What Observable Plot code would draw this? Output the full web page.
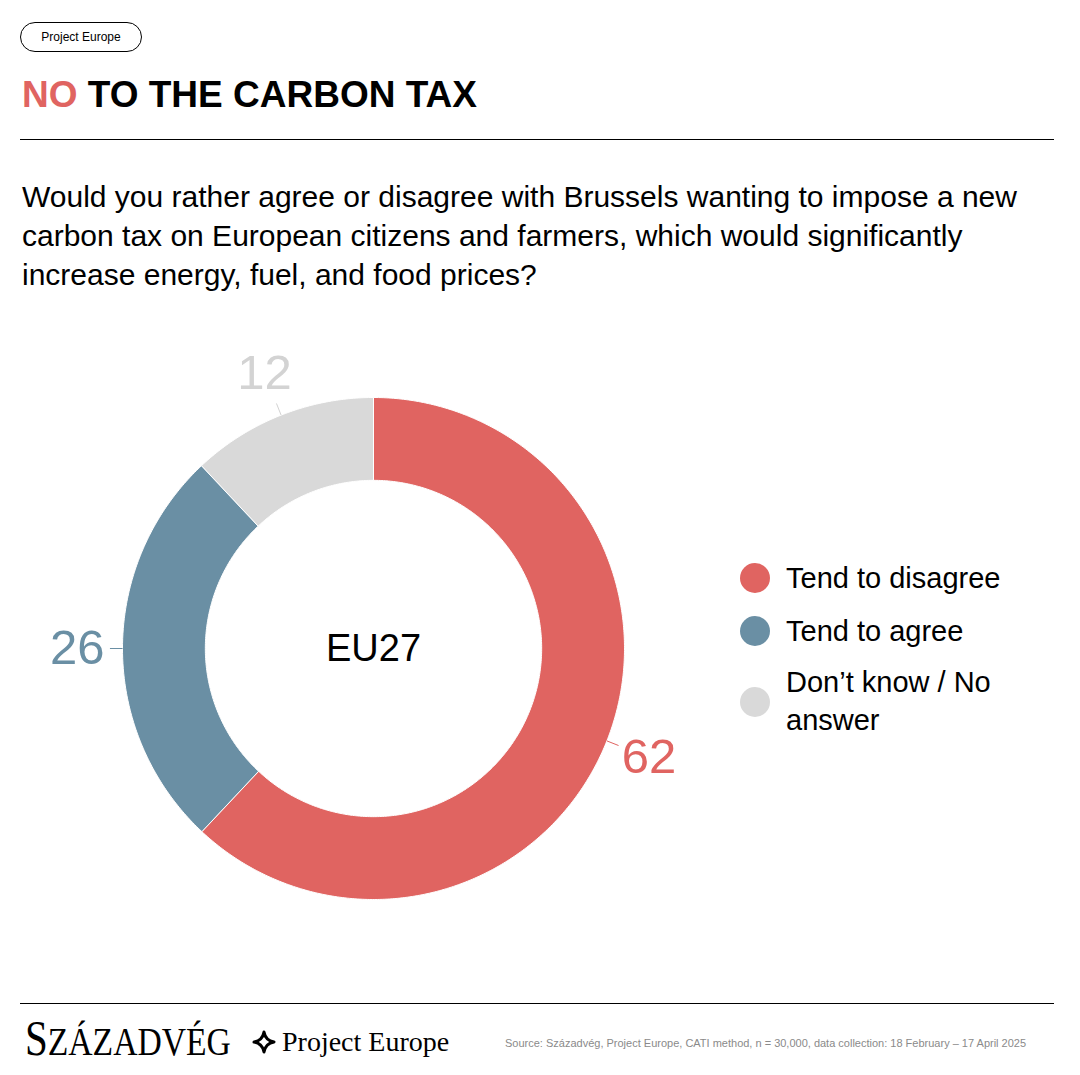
<!DOCTYPE html>
<html>
<head>
<meta charset="utf-8">
<script src="https://cdn.jsdelivr.net/npm/d3@7"></script>
<script src="https://cdn.jsdelivr.net/npm/@observablehq/plot@0.6"></script>
<style>
  html, body { margin: 0; padding: 0; background: #fff; }
  body { width: 1080px; height: 1075px; position: relative; overflow: hidden; font-family: "Liberation Sans", Arial, sans-serif; color: #000; }
  .abs { position: absolute; }
  #pill { left: 20px; top: 22px; width: 120px; height: 28px; border: 1px solid #000; border-radius: 15px; font-size: 12px; line-height: 28px; text-align: center; }
  #title { left: 22px; top: 76px; font-size: 37px; line-height: 37px; font-weight: bold; white-space: nowrap; }
  #title .no { color: #E06461; }
  .rule { left: 20px; width: 1034px; height: 1px; background: #000; }
  #question { left: 22px; top: 177px; font-size: 30px; line-height: 39px; white-space: nowrap; }
  #chart { left: 0; top: 0; }
  .leg { left: 740px; }
  .leg .dot { position: absolute; left: 0; width: 30px; height: 30px; border-radius: 50%; }
  .leg .lab { position: absolute; left: 46px; font-size: 29px; line-height: 38px; white-space: nowrap; }
  #logo1 { left: 25px; top: 1013px; font-family: "Liberation Serif", serif; line-height: 50px; transform-origin: 0 0; transform: scaleX(0.82); white-space: nowrap; }
  #logo1 .big { font-size: 50px; }
  #logo1 .small { font-size: 41px; }
  #logo2 { left: 252px; top: 1026px; font-family: "Liberation Serif", serif; font-size: 28px; line-height: 32px; white-space: nowrap; }
  #logo2 svg { vertical-align: -3px; margin-right: 6px; }
  #source { left: 505px; top: 1036px; font-size: 11px; line-height: 14px; color: #8a8a8a; white-space: nowrap; }
</style>
</head>
<body>
<div id="pill" class="abs">Project Europe</div>
<div id="title" class="abs"><span class="no">NO</span> TO THE CARBON TAX</div>
<div class="abs rule" style="top:139px"></div>
<div id="question" class="abs">Would you rather agree or disagree with Brussels wanting to impose a new<br>carbon tax on European citizens and farmers, which would significantly<br>increase energy, fuel, and food prices?</div>
<div id="chart" class="abs"></div>
<div id="legend"></div>
<div class="abs rule" style="top:1003px"></div>
<div id="logo1" class="abs"><span class="big">S</span><span class="small">ZÁZADVÉG</span></div>
<div id="logo2" class="abs"><svg width="24" height="24" viewBox="0 0 24 24"><path d="M12 2 Q13.5 10.5 22 12 Q13.5 13.5 12 22 Q10.5 13.5 2 12 Q10.5 10.5 12 2 Z" fill="none" stroke="#000" stroke-width="3" stroke-linejoin="round"/></svg>Project Europe</div>
<div id="source" class="abs">Source: Századvég, Project Europe, CATI method, n = 30,000, data collection: 18 February – 17 April 2025</div>
<script>
// ---- data ----
const categories = ["Tend to disagree", "Tend to agree", "Don’t know / No answer"];
const values = [62, 26, 12];
const colors = ["#E06461", "#6A8FA4", "#D9D9D9"];
const labelColors = ["#E06461", "#6A8FA4", "#D3D3D3"];
const centerLabel = "EU27";

// ---- geometry from data ----
const innerR = 0.67;
const pie = d3.pie().sort(null).value(d => d.value)(categories.map((c, i) => ({cat: c, value: values[i]})));
const polys = [];
pie.forEach(s => {
  const n = Math.max(8, Math.ceil((s.endAngle - s.startAngle) / 0.01));
  for (let k = 0; k <= n; k++) {
    const a = s.startAngle + (s.endAngle - s.startAngle) * k / n;
    polys.push({cat: s.data.cat, x: Math.sin(a), y: Math.cos(a)});
  }
  for (let k = n; k >= 0; k--) {
    const a = s.startAngle + (s.endAngle - s.startAngle) * k / n;
    polys.push({cat: s.data.cat, x: innerR * Math.sin(a), y: innerR * Math.cos(a)});
  }
});
const labels = pie.map(s => {
  const m = (s.startAngle + s.endAngle) / 2;
  return {cat: s.data.cat, value: s.data.value, m,
    x1: Math.sin(m), y1: Math.cos(m),
    x2: 1.05 * Math.sin(m), y2: 1.05 * Math.cos(m),
    lx: 1.18 * Math.sin(m), ly: 1.18 * Math.cos(m)};
});
const lc = d3.scaleOrdinal(categories, labelColors);

const chart = Plot.plot({
  width: 1080, height: 1075,
  margin: 0,
  x: {domain: [-1, 1], range: [122, 624], axis: null},
  y: {domain: [-1, 1], range: [899, 397], axis: null},
  color: {domain: categories, range: colors},
  style: {fontFamily: "Liberation Sans, Arial, sans-serif", background: "transparent"},
  marks: [
    Plot.line(polys, {x: "x", y: "y", z: "cat", fill: "cat", stroke: "#fff", strokeWidth: 1, curve: "linear-closed"}),
    Plot.link(labels, {x1: "x1", y1: "y1", x2: "x2", y2: "y2", stroke: d => lc(d.cat), strokeWidth: 1}),
    Plot.text(labels, {x: "lx", y: "ly", text: d => String(d.value), fill: d => lc(d.cat), fontSize: 49, textAnchor: "middle", lineAnchor: "middle"}),
    Plot.text([centerLabel], {x: () => 0, y: () => 0, text: d => d, fontSize: 38, fill: "#000", textAnchor: "middle", lineAnchor: "middle"})
  ]
});
document.getElementById("chart").appendChild(chart);

// ---- legend ----
const legend = document.getElementById("legend");
const legTops = [563, 616, 687];
categories.forEach((c, i) => {
  const item = document.createElement("div");
  item.className = "abs leg";
  item.style.top = legTops[i] + "px";
  const dot = document.createElement("div");
  dot.className = "dot";
  dot.style.background = colors[i];
  item.appendChild(dot);
  const lab = document.createElement("div");
  lab.className = "lab";
  lab.style.top = (i === 2 ? -24 : -4) + "px";
  lab.innerHTML = c === "Don’t know / No answer" ? "Don’t know / No<br>answer" : c;
  item.appendChild(lab);
  legend.appendChild(item);
});
</script>
</body>
</html>
